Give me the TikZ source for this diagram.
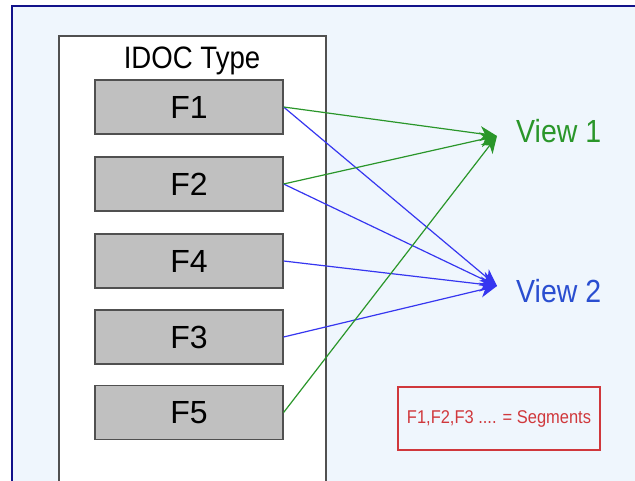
\documentclass[tikz,border=0pt]{standalone}
\usepackage{fontspec}
\setmainfont{Liberation Sans}
\usepackage{graphicx}
\usetikzlibrary{arrows.meta}
\definecolor{bgblue}{HTML}{EFF6FD}
\definecolor{frameblue}{HTML}{12128A}
\definecolor{segfill}{HTML}{C0C0C0}
\definecolor{segline}{HTML}{505050}
\definecolor{vgreen}{HTML}{2A962A}
\definecolor{vblue}{HTML}{3636F0}
\definecolor{vtextblue}{HTML}{2A4ED0}
\definecolor{notered}{HTML}{D0383C}
\newcommand\nrw[1]{\scalebox{0.89}[1]{#1}}
\tikzset{
  seg/.style={draw=segline,fill=segfill,line width=1.2pt,
    minimum width=188pt,minimum height=54pt,inner sep=0pt,
    font=\fontsize{32}{36}\selectfont},
  view/.style={anchor=west,inner sep=0pt,font=\fontsize{32}{36}\selectfont},
  togreen/.style={draw=vgreen,line width=1.2pt,
    -{Stealth[length=17pt,width=15pt,inset=5pt]}},
  toblue/.style={draw=vblue,line width=1.2pt,
    -{Stealth[length=17pt,width=15pt,inset=5pt]}},
}

\begin{document}
\begin{tikzpicture}[x=1pt,y=-1pt]
    \useasboundingbox (0,0) rectangle (635,481);
    \fill[bgblue] (12,6) rectangle (635,481);
    \draw[frameblue,line width=2pt] (12,481) -- (12,6) -- (635,6);

    % IDOC type column
    \draw[segline,fill=white,line width=1.3pt]
    (59,482) -- (59,36) -- (326,36) -- (326,482);
    \path (192,69) node[anchor=base,inner sep=0pt,
      font=\fontsize{31}{36}\selectfont] (idoc) {\nrw{IDOC Type}};

    \path
    (189,107) node[seg] (f1) {F1}
    (189,184) node[seg] (f2) {F2}
    (189,261) node[seg] (f4) {F4}
    (189,337) node[seg] (f3) {F3}
    (189,412.5) node[seg] (f5) {F5}
    ;

    % views
    \path
    (497,136) coordinate (v1tip)
    (497,286) coordinate (v2tip)
    (516,131.5) node[view,text=vgreen] (view1) {\nrw{View 1}}
    (516,291) node[view,text=vtextblue] (view2) {\nrw{View 2}}
    ;

    \draw[toblue] (f1.east) -- (v2tip);
    \draw[toblue] (f2.east) -- (v2tip);
    \draw[toblue] (f4.east) -- (v2tip);
    \draw[toblue] (f3.east) -- (v2tip);

    \draw[togreen] (f1.east) -- (v1tip);
    \draw[togreen] (f2.east) -- (v1tip);
    \draw[togreen] (f5.east) -- (v1tip);

    \node[draw=notered,line width=1.3pt,minimum width=202pt,
      minimum height=63pt,text=notered,
      font=\fontsize{18.5}{22}\selectfont] (note) at (499,418.5)
      {\nrw{F1,F2,F3 .... = Segments}};
\end{tikzpicture}
\end{document}
